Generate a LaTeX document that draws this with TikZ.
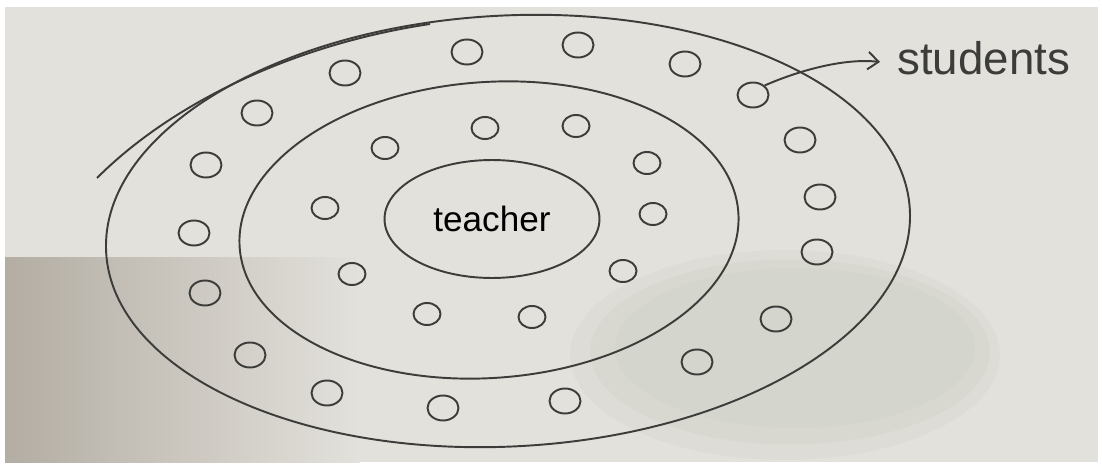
\documentclass[tikz,border=0pt]{standalone}
\usepackage{fontspec}
\setmainfont{Liberation Sans}
\usetikzlibrary{shapes.geometric,arrows.meta}
\definecolor{paper}{HTML}{E3E1DC}
\definecolor{shadow}{HTML}{B3ADA3}
\definecolor{smudge}{HTML}{C6C8BE}
\definecolor{ink}{HTML}{3C3C3A}
\tikzset{
  pen/.style={draw=ink, line width=1.1pt},
  ring/.style={pen, ellipse, inner sep=0pt},
  stu/.style={pen, ellipse, minimum width=0.62cm, minimum height=0.5cm, inner sep=0pt},
  stuin/.style={pen, ellipse, minimum width=0.54cm, minimum height=0.44cm, inner sep=0pt},
  hand/.style={text=ink, inner sep=0pt}
}
\begin{document}
\begin{tikzpicture}[x=0.02cm, y=-0.02cm]
% page and paper
\fill[white] (0,0) rectangle (1102,466);
\fill[paper] (5,7) rectangle (1098,462);
\shade[left color=shadow, right color=paper] (5,257) rectangle (360,462);
\fill[smudge, opacity=0.18] (785,355) ellipse [x radius=4.3cm, y radius=2.1cm];
\fill[smudge, opacity=0.18] (790,352) ellipse [x radius=4.0cm, y radius=1.85cm];
\fill[smudge, opacity=0.18] (795,348) ellipse [x radius=3.6cm, y radius=1.6cm];

% rings
\node[ring, minimum width=16.1cm, minimum height=8.62cm, rotate=3] (outer) at (508,231) {};
\node[ring, minimum width=10cm, minimum height=5.92cm, rotate=4] (middle) at (489,230) {};
\node[ring, minimum width=4.3cm, minimum height=2.36cm, font=\fontsize{20}{22}\selectfont] (teacher) at (492,219) {teacher};

% extra stroke at top left
\coordinate (xs) at (97,178);
\coordinate (xe) at (430,24);
\draw[pen] (xs) .. controls (170,105) and (290,45) .. (xe);

% outer ring of students
\node[stu] (o1) at (467,52) {};
\node[stu] (o2) at (578,45) {};
\node[stu] (o3) at (685,64) {};
\node[stu] (o4) at (753,95) {};
\node[stu] (o5) at (800,140) {};
\node[stu] (o6) at (820,197) {};
\node[stu] (o7) at (817,252) {};
\node[stu] (o8) at (776,319) {};
\node[stu] (o9) at (697,362) {};
\node[stu] (o10) at (565,401) {};
\node[stu] (o11) at (443,408) {};
\node[stu] (o12) at (327,393) {};
\node[stu] (o13) at (250,355) {};
\node[stu] (o14) at (205,293) {};
\node[stu] (o15) at (194,233) {};
\node[stu] (o16) at (206,165) {};
\node[stu] (o17) at (257,113) {};
\node[stu] (o18) at (345,73) {};

% inner ring of students
\node[stuin] (i1) at (485,128) {};
\node[stuin] (i2) at (576,126) {};
\node[stuin] (i3) at (647,163) {};
\node[stuin] (i4) at (653,214) {};
\node[stuin] (i5) at (623,271) {};
\node[stuin] (i6) at (532,317) {};
\node[stuin] (i7) at (427,314) {};
\node[stuin] (i8) at (352,274) {};
\node[stuin] (i9) at (325,208) {};
\node[stuin] (i10) at (385,148) {};

% students label
\node[hand, anchor=west, font=\fontsize{26}{28}\selectfont] (students) at (897,58) {students};
\coordinate (tip) at (880,62);
\draw[pen, -{Straight Barb[length=6pt, width=10pt]}] (o4.north east) .. controls (800,70) and (845,58) .. (tip);
\end{tikzpicture}
\end{document}
